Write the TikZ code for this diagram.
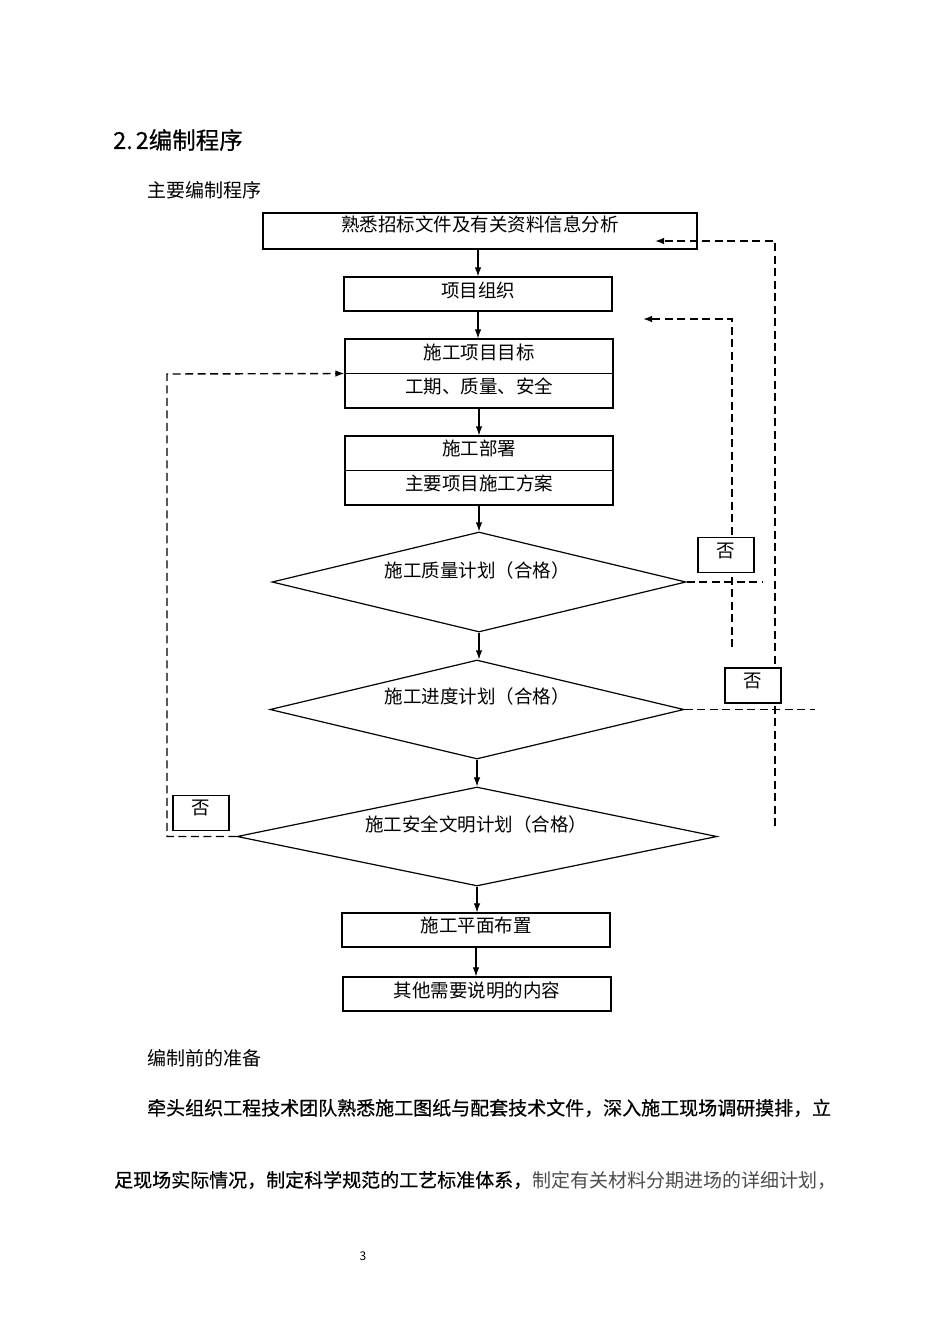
\documentclass[tikz,border=0pt]{standalone}
\usepackage{fontspec}
\setmainfont{Noto Sans CJK SC}
\newfontfamily\parafont[FakeBold=0.5]{Noto Sans CJK SC}
\newfontfamily\titlefont[FakeBold=0.4]{Noto Sans CJK SC}
\usetikzlibrary{arrows.meta,shapes.geometric}
\begin{document}
\begin{tikzpicture}[x=1pt,y=-1pt,
  box/.style={draw, line width=1.2pt, inner sep=0pt},
  dia/.style={draw, diamond, line width=1.2pt, inner sep=0pt},
  lbl/.style={inner sep=0pt, font=\fontsize{18.5}{20}\selectfont},
  txt/.style={inner sep=0pt, anchor=west, font=\fontsize{19}{21}\selectfont},
  flow/.style={line width=1.1pt, -{Latex[length=9pt,width=6.5pt]}},
  fb/.style={line width=1.4pt, dash pattern=on 8pt off 4.5pt},
  fba/.style={fb, -{Latex[length=9pt,width=6.5pt]}},
  nobox/.style={draw, fill=white, line width=1.2pt, minimum width=56pt, minimum height=35pt, inner sep=0pt}
]
\useasboundingbox[fill=white] (0,0) rectangle (950,1344);

% headings
\node[txt, font=\fontsize{23.5}{25}\titlefont] (title) at (113,140) {2.\kern3pt 2编制程序};
\node[txt] (sub) at (147,190) {主要编制程序};

% boxes
\node[box, minimum width=434pt, minimum height=36pt] (b1) at (480,231) {};
\node[lbl] (t1) at (480,224) {熟悉招标文件及有关资料信息分析};
\node[box, minimum width=268pt, minimum height=34pt] (b2) at (478,294) {};
\node[lbl] (t2) at (478,290) {项目组织};
\node[box, minimum width=268pt, minimum height=69pt] (b3) at (479,373.5) {};
\draw[line width=1.2pt] (b3.west) -- (b3.east);
\node[lbl] (t3a) at (479,352) {施工项目目标};
\node[lbl] (t3b) at (479,386) {工期、质量、安全};
\node[box, minimum width=268pt, minimum height=69pt] (b4) at (479,470.5) {};
\draw[line width=1.2pt] (b4.west) -- (b4.east);
\node[lbl] (t4a) at (479,448) {施工部署};
\node[lbl] (t4b) at (479,483) {主要项目施工方案};

% diamonds
\node[dia, minimum width=414pt, minimum height=100pt] (d1) at (479,582) {};
\node[lbl] (td1) at (477,570) {施工质量计划（合格）};
\node[dia, minimum width=414pt, minimum height=99pt] (d2) at (477,709.5) {};
\node[lbl] (td2) at (477,696) {施工进度计划（合格）};
\node[dia, minimum width=480pt, minimum height=99pt] (d3) at (477,836.5) {};
\node[lbl] (td3) at (476,824) {施工安全文明计划（合格）};

\node[box, minimum width=268pt, minimum height=34pt] (b5) at (476,930) {};
\node[lbl] (t5) at (476,925) {施工平面布置};
\node[box, minimum width=268pt, minimum height=34pt] (b6) at (477,994) {};
\node[lbl] (t6) at (477,990) {其他需要说明的内容};

% main flow
\draw[flow] (b1.south -| b2.north) -- (b2.north);
\draw[flow] (b2.south) -- (b2.south |- b3.north);
\draw[flow] (b3.south) -- (b4.north);
\draw[flow] (b4.south) -- (b4.south |- d1.north);
\draw[flow] (d1.south) -- (d1.south |- d2.north);
\draw[flow] (d2.south) -- (d3.north);
\draw[flow] (d3.south) -- (d3.south |- b5.north);
\draw[flow] (b5.south) -- (b5.south |- b6.north);

% feedback loops
\coordinate (oB) at (775,826);
\coordinate (oT) at (775,241);
\coordinate (oTip) at (655,241);
\draw[fba] (oB) -- (oT) -- (oTip);
\coordinate (o2) at (815,709.5);
\draw[fb] (d2.east) -- (o2);

\coordinate (iB) at (732,647);
\coordinate (iT) at (732,319);
\coordinate (iTip) at (643,319);
\draw[fba] (iB) -- (iT) -- (iTip);
\coordinate (i1) at (763,582);
\draw[fb] (d1.east) -- (i1);

\coordinate (lB) at (167,836.5);
\coordinate (lT) at (167,374);
\draw[fba] (d3.west) -- (lB) -- (lT) -- (b3.west);

% "no" boxes
\node[nobox] (n1) at (726,555) {};
\node[lbl] (tn1) at (726,551) {否};
\node[nobox] (n2) at (753,685.5) {};
\node[lbl] (tn2) at (753,681) {否};
\node[nobox] (n3) at (201,813) {};
\node[lbl] (tn3) at (201,808) {否};

% body text
\node[txt] (prep) at (147,1058) {编制前的准备};
\node[txt] (p1) at (147,1108) {\parafont 牵头组织工程技术团队熟悉施工图纸与配套技术文件，深入施工现场调研摸排，立};
\node[txt] (p2) at (114,1180) {{\parafont 足现场实际情况，制定科学规范的工艺标准体系，}{\color{black!70}制定有关材料分期进场的详细计划，}};
\node[inner sep=0pt, font=\fontsize{12}{14}\selectfont] (pg) at (363,1256) {3};
\end{tikzpicture}
\end{document}
